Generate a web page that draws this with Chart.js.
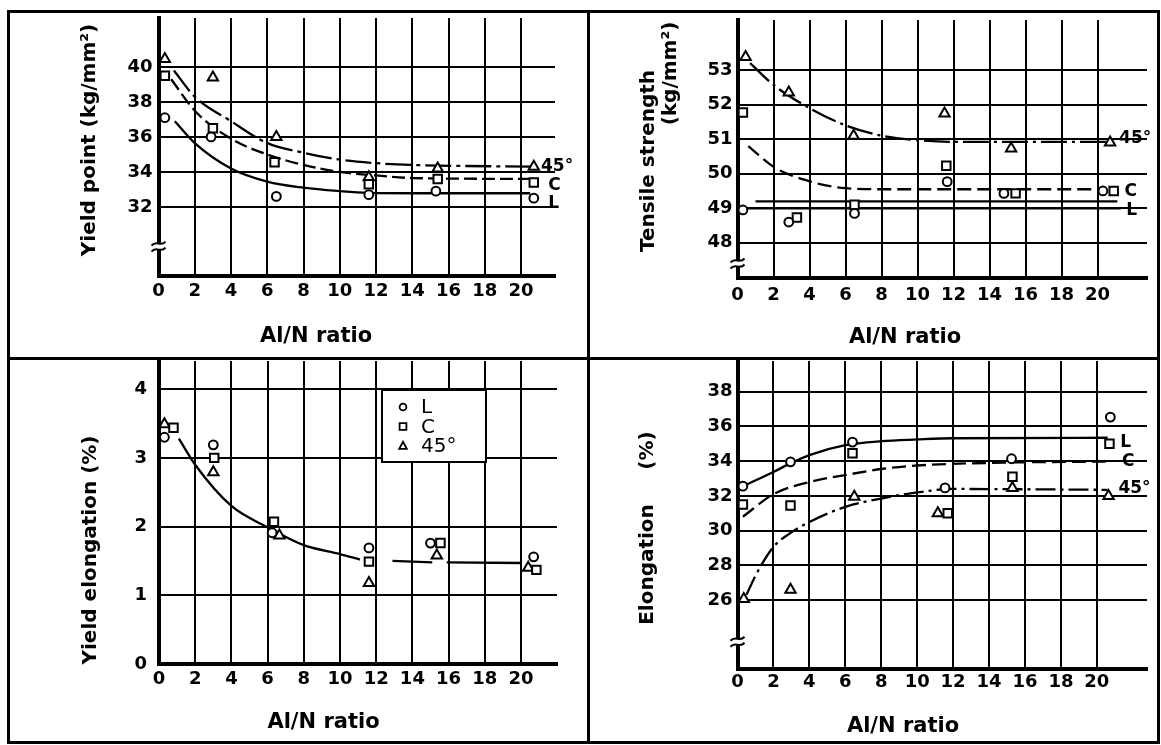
<!DOCTYPE html>
<html>
<head>
<meta charset="utf-8">
<script src="https://cdn.jsdelivr.net/npm/chart.js@4.4.0/dist/chart.umd.min.js"></script>
<style>
  body { margin: 0; background: #fff; }
  #wrap { position: relative; width: 1161px; height: 745px; overflow: hidden; }
  canvas { position: absolute; left: 0; top: 0; }
  .rule { position: absolute; background: #000; }
</style>
</head>
<body>
<div id="wrap">
  <div class="rule" style="left:7px;top:10px;width:1153px;height:3px"></div>
  <div class="rule" style="left:7px;top:741px;width:1153px;height:3px"></div>
  <div class="rule" style="left:7px;top:10px;width:3px;height:734px"></div>
  <div class="rule" style="left:1157px;top:10px;width:3px;height:734px"></div>
  <div class="rule" style="left:587px;top:10px;width:3px;height:734px"></div>
  <div class="rule" style="left:7px;top:357px;width:1153px;height:3px"></div>
  <canvas id="yp" width="1161" height="745"></canvas>
  <canvas id="ts" width="1161" height="745"></canvas>
  <canvas id="ye" width="1161" height="745"></canvas>
  <canvas id="el" width="1161" height="745"></canvas>
</div>
<script>
// Al/N ratio, same on every panel
const ratioTicks = [0, 2, 4, 6, 8, 10, 12, 14, 16, 18, 20];

// Yield point (kg/mm2)
const ypTicks = [32, 34, 36, 38, 40];
const ypL_x = [0.35, 2.9, 6.5, 11.6, 15.3, 20.7];
const ypL_y = [37.1, 36.0, 32.6, 32.7, 32.9, 32.5];
const ypC_x = [0.35, 3.0, 6.4, 11.6, 15.4, 20.7];
const ypC_y = [39.5, 36.5, 34.55, 33.3, 33.6, 33.4];
const yp45_x = [0.35, 3.0, 6.5, 11.6, 15.4, 20.7];
const yp45_y = [40.45, 39.4, 36.0, 33.7, 34.2, 34.3];
const ypFitL_x = [0.9, 2, 4, 6, 8, 10, 11.5, 14, 20.5];
const ypFitL_y = [36.9, 35.65, 34.2, 33.45, 33.1, 32.9, 32.8, 32.78, 32.78];
const ypFitC_x = [0.7, 2, 4, 6, 8, 10, 12, 14, 20.5];
const ypFitC_y = [39.3, 37.5, 35.9, 35.0, 34.4, 34.0, 33.8, 33.65, 33.6];
const ypFit45_x = [0.85, 2, 4, 6, 8, 10, 12, 14, 20.5];
const ypFit45_y = [39.8, 38.3, 36.9, 35.65, 35.1, 34.7, 34.5, 34.4, 34.3];

// Tensile strength (kg/mm2)
const tsTicks = [48, 49, 50, 51, 52, 53];
const tsL_x = [0.3, 2.85, 6.5, 11.65, 14.8, 20.3];
const tsL_y = [48.95, 48.6, 48.85, 49.77, 49.43, 49.5];
const tsC_x = [0.3, 3.3, 6.5, 11.6, 15.45, 20.9];
const tsC_y = [51.77, 48.73, 49.1, 50.23, 49.43, 49.5];
const ts45_x = [0.45, 2.85, 6.45, 11.5, 15.2, 20.7];
const ts45_y = [53.38, 52.35, 51.1, 51.74, 50.73, 50.9];
const tsFit45_x = [0.7, 2, 4, 6, 8, 10, 12, 20.6];
const tsFit45_y = [53.2, 52.57, 51.9, 51.4, 51.1, 50.97, 50.92, 50.92];
const tsFitC_x = [0.6, 2, 4, 6, 8, 20.5];
const tsFitC_y = [50.8, 50.2, 49.78, 49.58, 49.55, 49.55];
const tsFitL1_x = [0, 21.3];
const tsFitL1_y = [49.0, 49.0];
const tsFitL2_x = [1.0, 21.1];
const tsFitL2_y = [49.2, 49.2];

// Yield elongation (%)
const yeTicks = [0, 1, 2, 3, 4];
const yeL_x = [0.3, 3.0, 6.25, 11.6, 15.0, 20.7];
const yeL_y = [3.3, 3.19, 1.91, 1.69, 1.76, 1.56];
const yeC_x = [0.8, 3.05, 6.35, 11.6, 15.55, 20.85];
const yeC_y = [3.44, 3.0, 2.07, 1.49, 1.76, 1.37];
const ye45_x = [0.3, 3.0, 6.65, 11.6, 15.35, 20.4];
const ye45_y = [3.49, 2.79, 1.87, 1.18, 1.58, 1.4];
const yeFit1_x = [1.1, 2, 4, 6, 8, 10, 11.1];
const yeFit1_y = [3.28, 2.9, 2.3, 1.99, 1.73, 1.6, 1.52];
const yeFit2_x = [12.9, 15.1];
const yeFit2_y = [1.5, 1.48];
const yeFit3_x = [15.9, 20.0];
const yeFit3_y = [1.48, 1.47];

// Elongation (%)
const elTicks = [26, 28, 30, 32, 34, 36, 38];
const elL_x = [0.3, 2.95, 6.4, 11.55, 15.25, 20.75];
const elL_y = [32.56, 33.96, 35.1, 32.46, 34.14, 36.54];
const elC_x = [0.3, 2.95, 6.4, 11.7, 15.3, 20.7];
const elC_y = [31.5, 31.45, 34.45, 31.0, 33.1, 35.0];
const el45_x = [0.35, 2.95, 6.5, 11.15, 15.3, 20.65];
const el45_y = [26.06, 26.6, 31.95, 31.0, 32.46, 32.0];
const elFitL_x = [0.3, 2, 3, 4, 6, 8, 10, 12, 20.6];
const elFitL_y = [32.56, 33.38, 33.9, 34.35, 34.92, 35.15, 35.25, 35.32, 35.35];
const elFitC_x = [0.3, 2, 4, 6, 8, 10, 14, 20.7];
const elFitC_y = [30.8, 32.1, 32.8, 33.2, 33.55, 33.75, 33.9, 33.98];
const elFit45_x = [0.5, 1, 2, 3, 4, 6, 8, 10, 12, 20.6];
const elFit45_y = [26.3, 27.4, 29.06, 29.9, 30.5, 31.37, 31.85, 32.2, 32.4, 32.35];

Chart.defaults.font.family = '"DejaVu Sans", sans-serif';
Chart.defaults.color = '#000';

const W = 1161, H = 745, Y_W = 50, X_H = 34;
const titleFont = 'bold 20px "DejaVu Sans"';
const xTitleFont = 'bold 21px "DejaVu Sans"';
const tagFont = 'bold 17px "DejaVu Sans"';

function pts(xs, ys) { return xs.map((x, i) => ({x: x, y: ys[i]})); }

function markers(label, style, xs, ys) {
  return {
    label: label, data: pts(xs, ys), showLine: false, inLegend: true, order: 0,
    pointStyle: style, pointRadius: style === 'circle' ? 4.4 : 6,
    pointBorderWidth: 2, pointBorderColor: '#000', pointBackgroundColor: '#fff'
  };
}

function curve(xs, ys, dash) {
  return {
    data: pts(xs, ys), showLine: true, pointRadius: 0, order: 1,
    borderColor: '#000', borderWidth: 2.3, borderDash: dash || [],
    cubicInterpolationMode: 'monotone'
  };
}

// axis break, titles, end tags and the legend box
const marks = {
  id: 'marks',
  afterDraw(chart, args, o) {
    const ctx = chart.ctx, xs = chart.scales.x, ys = chart.scales.y;
    ctx.save();
    if (o.breakAt != null) {
      const bx = chart.chartArea.left, by = ys.getPixelForValue(o.breakAt);
      ctx.fillStyle = '#fff';
      ctx.fillRect(bx - 4, by - 3, 8, 6);
      ctx.strokeStyle = '#000';
      ctx.lineWidth = 2;
      [-3, 3].forEach(d => {
        ctx.beginPath();
        ctx.moveTo(bx - 7, by + d + 2);
        ctx.bezierCurveTo(bx - 2, by + d - 4, bx + 2, by + d + 4, bx + 7, by + d - 2);
        ctx.stroke();
      });
    }
    (o.texts || []).forEach(t => {
      let px = t.x, py = t.y;
      if (t.data) { px = xs.getPixelForValue(t.x); py = ys.getPixelForValue(t.y); }
      ctx.save();
      ctx.font = t.font;
      ctx.fillStyle = '#000';
      ctx.textAlign = t.align || 'center';
      ctx.textBaseline = 'middle';
      ctx.translate(px, py);
      if (t.rotate) ctx.rotate(-Math.PI / 2);
      ctx.fillText(t.text, 0, 0);
      ctx.restore();
    });
    if (o.legend) {
      const b = o.legend;
      ctx.fillStyle = '#fff';
      ctx.fillRect(b.left, b.top, b.right - b.left, b.bottom - b.top);
      ctx.strokeStyle = '#000';
      ctx.lineWidth = 2;
      ctx.strokeRect(b.left, b.top, b.right - b.left, b.bottom - b.top);
      const items = chart.data.datasets.filter(d => d.inLegend);
      items.forEach((d, i) => {
        const y = b.firstRow + i * b.rowStep;
        const mx = b.markX;
        ctx.lineWidth = 1.8;
        ctx.beginPath();
        if (d.pointStyle === 'circle') {
          ctx.arc(mx, y, 3.4, 0, Math.PI * 2);
        } else if (d.pointStyle === 'rect') {
          ctx.rect(mx - 3.4, y - 3.4, 6.8, 6.8);
        } else {
          ctx.moveTo(mx, y - 4.2);
          ctx.lineTo(mx + 3.8, y + 2.8);
          ctx.lineTo(mx - 3.8, y + 2.8);
          ctx.closePath();
        }
        ctx.stroke();
        ctx.fillStyle = '#000';
        ctx.font = '20px "DejaVu Sans"';
        ctx.textAlign = 'left';
        ctx.textBaseline = 'middle';
        ctx.fillText(d.label, b.textX, y + 1);
      });
    }
    ctx.restore();
  }
};

function panel(id, cfg) {
  const a = cfg.area;
  const tickFont = {size: 18, weight: 'bold'};
  const grid = {color: '#000', lineWidth: 2, drawTicks: false};
  const border = {color: '#000', width: 4};
  return new Chart(document.getElementById(id), {
    type: 'scatter',
    data: {datasets: cfg.datasets},
    options: {
      responsive: false, animation: false, events: [], devicePixelRatio: 1,
      layout: {
        autoPadding: false,
        padding: {left: a.left - Y_W, right: W - a.right, top: a.top, bottom: H - a.bottom - X_H}
      },
      plugins: {legend: {display: false}, tooltip: {enabled: false}, marks: cfg.marks},
      scales: {
        x: {
          type: 'linear', min: 0, max: cfg.xMax,
          afterBuildTicks: s => { s.ticks = ratioTicks.map(v => ({value: v})); },
          afterFit: s => { s.height = X_H; },
          grid: grid, border: border,
          ticks: {color: '#000', font: tickFont, padding: cfg.xPad, maxRotation: 0, autoSkip: false}
        },
        y: {
          type: 'linear', min: cfg.yMin, max: cfg.yMax,
          afterBuildTicks: s => { s.ticks = cfg.yTicks.map(v => ({value: v})); },
          afterFit: s => { s.width = Y_W; },
          grid: grid, border: border,
          ticks: {color: '#000', font: tickFont, padding: cfg.yPad}
        }
      }
    },
    plugins: [marks]
  });
}

panel('yp', {
  area: {left: 158.5, right: 555, top: 18, bottom: 276},
  xMax: 21.87, yMin: 28.05, yMax: 42.8, yTicks: ypTicks, xPad: 5, yPad: 6,
  datasets: [
    markers('L', 'circle', ypL_x, ypL_y),
    markers('C', 'rect', ypC_x, ypC_y),
    markers('45°', 'triangle', yp45_x, yp45_y),
    curve(ypFitL_x, ypFitL_y),
    curve(ypFitC_x, ypFitC_y, [13, 5]),
    curve(ypFit45_x, ypFit45_y, [26, 5, 4, 5])
  ],
  marks: {
    breakAt: 29.73,
    texts: [
      {text: 'Yield point (kg/mm²)', x: 90, y: 140, rotate: true, font: titleFont},
      {text: 'Al/N ratio', x: 316, y: 337, font: xTitleFont},
      {text: '45°', x: 21.1, y: 34.3, data: true, align: 'left', font: tagFont},
      {text: 'C', x: 21.5, y: 33.2, data: true, align: 'left', font: tagFont},
      {text: 'L', x: 21.5, y: 32.2, data: true, align: 'left', font: tagFont}
    ]
  }
});

panel('ts', {
  area: {left: 737.5, right: 1147, top: 20, bottom: 278},
  xMax: 22.75, yMin: 46.98, yMax: 54.45, yTicks: tsTicks, xPad: 7, yPad: 5,
  datasets: [
    markers('L', 'circle', tsL_x, tsL_y),
    markers('C', 'rect', tsC_x, tsC_y),
    markers('45°', 'triangle', ts45_x, ts45_y),
    curve(tsFitL1_x, tsFitL1_y),
    curve(tsFitL2_x, tsFitL2_y),
    curve(tsFitC_x, tsFitC_y, [14, 6]),
    curve(tsFit45_x, tsFit45_y, [26, 5, 3, 5])
  ],
  marks: {
    breakAt: 47.4,
    texts: [
      {text: 'Tensile strength', x: 648.5, y: 161, rotate: true, font: titleFont},
      {text: '(kg/mm²)', x: 670.8, y: 73.5, rotate: true, font: titleFont},
      {text: 'Al/N ratio', x: 905, y: 338, font: xTitleFont},
      {text: '45°', x: 21.2, y: 51.03, data: true, align: 'left', font: tagFont},
      {text: 'C', x: 21.5, y: 49.47, data: true, align: 'left', font: tagFont},
      {text: 'L', x: 21.6, y: 48.92, data: true, align: 'left', font: tagFont}
    ]
  }
});

panel('ye', {
  area: {left: 159, right: 557, top: 361, bottom: 664},
  xMax: 21.99, yMin: 0, yMax: 4.41, yTicks: yeTicks, xPad: 5, yPad: 12,
  datasets: [
    markers('L', 'circle', yeL_x, yeL_y),
    markers('C', 'rect', yeC_x, yeC_y),
    markers('45°', 'triangle', ye45_x, ye45_y),
    curve(yeFit1_x, yeFit1_y),
    curve(yeFit2_x, yeFit2_y),
    curve(yeFit3_x, yeFit3_y)
  ],
  marks: {
    texts: [
      {text: 'Yield elongation (%)', x: 90.6, y: 550, rotate: true, font: titleFont},
      {text: 'Al/N ratio', x: 323.5, y: 723, font: xTitleFont}
    ],
    legend: {left: 382, top: 390, right: 486, bottom: 462, markX: 403, textX: 421, firstRow: 407, rowStep: 19.5}
  }
});

panel('el', {
  area: {left: 737.5, right: 1147, top: 361, bottom: 669},
  xMax: 22.79, yMin: 22.03, yMax: 39.77, yTicks: elTicks, xPad: 3, yPad: 5,
  datasets: [
    markers('L', 'circle', elL_x, elL_y),
    markers('C', 'rect', elC_x, elC_y),
    markers('45°', 'triangle', el45_x, el45_y),
    curve(elFitL_x, elFitL_y),
    curve(elFitC_x, elFitC_y, [14, 6]),
    curve(elFit45_x, elFit45_y, [20, 5, 3, 5])
  ],
  marks: {
    breakAt: 23.6,
    texts: [
      {text: 'Elongation', x: 647.5, y: 564.5, rotate: true, font: titleFont},
      {text: '(%)', x: 647.5, y: 450.5, rotate: true, font: titleFont},
      {text: 'Al/N ratio', x: 903, y: 727, font: xTitleFont},
      {text: 'L', x: 21.3, y: 35.05, data: true, align: 'left', font: tagFont},
      {text: 'C', x: 21.4, y: 33.96, data: true, align: 'left', font: tagFont},
      {text: '45°', x: 21.2, y: 32.44, data: true, align: 'left', font: tagFont}
    ]
  }
});
</script>
</body>
</html>
